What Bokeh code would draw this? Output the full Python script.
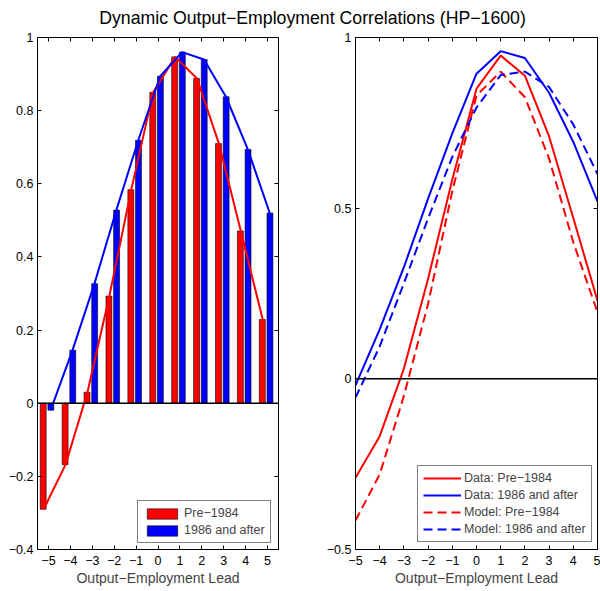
from bokeh.plotting import figure
from bokeh.models import (Range1d, FixedTicker, LinearAxis, Span, Div, ColumnDataSource,
                          CustomLabelingPolicy)
from bokeh.layouts import column, row
from bokeh.transform import dodge
from bokeh.embed import file_html
from bokeh.resources import INLINE

# data
leads = [-5, -4, -3, -2, -1, 0, 1, 2, 3, 4, 5]
pre_1984 = [-0.290, -0.168, 0.030, 0.293, 0.584, 0.850, 0.947, 0.888, 0.710, 0.471, 0.229]
post_1986 = [-0.019, 0.145, 0.327, 0.528, 0.719, 0.894, 0.960, 0.940, 0.838, 0.694, 0.520]
model_pre_1984 = [-0.415, -0.280, -0.050, 0.220, 0.550, 0.830, 0.900, 0.825, 0.645, 0.400, 0.195]
model_post_1986 = [-0.055, 0.095, 0.280, 0.470, 0.650, 0.795, 0.890, 0.900, 0.855, 0.745, 0.600]

lead_labels = ["−5", "−4", "−3", "−2", "−1", "0", "1", "2", "3", "4", "5"]
left_y_ticks = [-0.4, -0.2, 0, 0.2, 0.4, 0.6, 0.8, 1]
left_y_labels = ["−0.4", "−0.2", "0", "0.2", "0.4", "0.6", "0.8", "1"]
right_y_ticks = [-0.5, 0, 0.5, 1]
right_y_labels = ["−0.5", "0", "0.5", "1"]

title_text = "Dynamic Output−Employment Correlations (HP−1600)"
x_title = "Output−Employment Lead"

FONT = "Liberation Sans"
TICK_SIZE = "12.5px"

src = ColumnDataSource(dict(lead=leads, pre=pre_1984, post=post_1986,
                            mpre=model_pre_1984, mpost=model_post_1986))

# box axes (top / right) only carry tick marks, no labels
no_labels = CustomLabelingPolicy(code="""
    for (const i of indices) { indices.unset(i) }
    return indices
""")


def style(p, yticks, ylabels):
    p.grid.visible = False
    p.outline_line_color = "black"
    p.xaxis.ticker = FixedTicker(ticks=leads)
    p.xaxis.major_label_overrides = dict(zip(leads, lead_labels))
    p.yaxis.ticker = FixedTicker(ticks=yticks)
    p.yaxis.major_label_overrides = dict(zip(yticks, ylabels))
    p.xaxis.axis_label = x_title
    p.xaxis.axis_label_text_font = FONT
    p.xaxis.axis_label_text_font_size = "14px"
    p.xaxis.axis_label_text_font_style = "normal"
    p.xaxis.axis_label_standoff = 2
    p.xaxis.major_label_standoff = 6
    p.yaxis.major_label_standoff = 4
    for ax in (p.xaxis, p.yaxis):
        ax.major_label_text_font = FONT
        ax.major_label_text_font_size = TICK_SIZE
        ax.major_label_text_color = "black"
        ax.axis_line_color = "black"
        ax.major_tick_line_color = "black"
        ax.major_tick_in = 4
        ax.major_tick_out = 0
        ax.minor_tick_line_color = None
    top = LinearAxis(ticker=FixedTicker(ticks=leads), major_label_policy=no_labels,
                     major_label_text_font_size="0px",
                     major_label_standoff=0, major_tick_in=4, major_tick_out=0,
                     minor_tick_line_color=None, axis_line_color="black")
    right = LinearAxis(ticker=FixedTicker(ticks=yticks), major_label_policy=no_labels,
                       major_label_text_font_size="0px",
                       major_label_standoff=0, major_tick_in=4, major_tick_out=0,
                       minor_tick_line_color=None, axis_line_color="black")
    p.add_layout(top, "above")
    p.add_layout(right, "right")
    p.add_layout(Span(location=0, dimension="width", line_color="black", line_width=1.5))


def style_legend(p, loc):
    lg = p.legend[0]
    lg.location = loc
    lg.label_text_font = FONT
    lg.label_text_font_size = TICK_SIZE
    lg.border_line_color = "black"
    lg.border_line_width = 1
    lg.background_fill_alpha = 1
    lg.padding = 5
    lg.spacing = 3
    lg.margin = 0
    lg.label_height = 14
    lg.glyph_height = 13
    lg.glyph_width = 38
    lg.label_standoff = 3


# left panel: bars with connecting lines
p1 = figure(width=316, height=563, x_range=Range1d(-5.5, 5.5), y_range=Range1d(-0.4, 1),
            min_border_left=37, min_border_right=38, min_border_top=9, min_border_bottom=42,
            output_backend="svg", toolbar_location=None)
style(p1, left_y_ticks, left_y_labels)

p1.vbar(x=dodge("lead", -0.24, range=p1.x_range), top="pre", width=0.27, source=src,
        fill_color="red", line_color="black", line_width=0.6, legend_label="Pre−1984")
p1.vbar(x=dodge("lead", 0.11, range=p1.x_range), top="post", width=0.27, source=src,
        fill_color="blue", line_color="black", line_width=0.6, legend_label="1986 and after")
p1.line(x=dodge("lead", -0.22, range=p1.x_range), y="pre", source=src, line_color="red", line_width=2)
p1.line(x=dodge("lead", 0.1, range=p1.x_range), y="post", source=src, line_color="blue", line_width=2)
style_legend(p1, (100, 6))

# right panel: data vs model
p2 = figure(width=284, height=563, x_range=Range1d(-5, 5), y_range=Range1d(-0.5, 1),
            min_border_left=39, min_border_right=3, min_border_top=9, min_border_bottom=42,
            output_backend="svg", toolbar_location=None)
style(p2, right_y_ticks, right_y_labels)

p2.line(x="lead", y="pre", source=src, line_color="red", line_width=2, legend_label="Data: Pre−1984")
p2.line(x="lead", y="post", source=src, line_color="blue", line_width=2, legend_label="Data: 1986 and after")
p2.line(x="lead", y="mpre", source=src, line_color="red", line_width=2, line_dash="9 5",
        legend_label="Model: Pre−1984")
p2.line(x="lead", y="mpost", source=src, line_color="blue", line_width=2, line_dash="9 5",
        legend_label="Model: 1986 and after")
style_legend(p2, (62, 7))
p2.legend[0].glyph_height = 14

title = Div(text=f'<div style="box-sizing:border-box; width:600px; padding-left:25px; padding-top:8px; '
                 f'text-align:center; font-family:\'{FONT}\'; font-size:17.7px; line-height:20px; '
                 f'color:black; white-space:nowrap">{title_text}</div>',
            width=600, height=28, margin=0)

layout = column(title, row(p1, p2))

open("out.html", "w").write(file_html(layout, INLINE))
